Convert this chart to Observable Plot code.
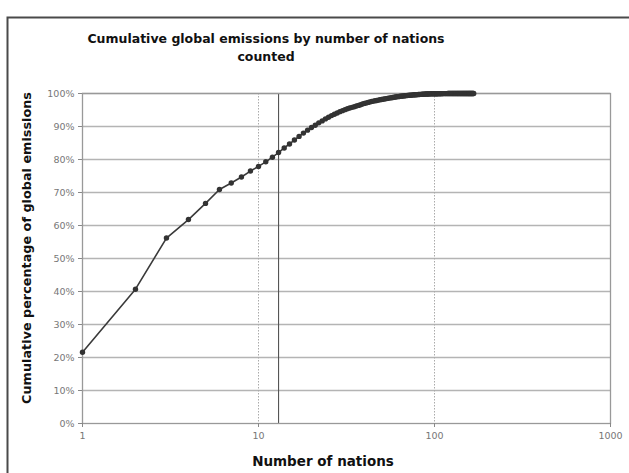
<!DOCTYPE html>
<html>
<head>
<meta charset="utf-8">
<script src="https://cdn.jsdelivr.net/npm/d3@7"></script>
<script src="https://cdn.jsdelivr.net/npm/@observablehq/plot@0.6"></script>
<style>
  html, body { margin: 0; padding: 0; background: #fff; }
  #chart svg { display: block; }
</style>
</head>
<body>
<div id="chart"></div>
<script>
// Cumulative percentage of global emissions for the first N nations (N = 1, 2, 3, ...)
const cumulativePct = [
  21.6, 40.7, 56.2, 61.8, 66.7, 70.9, 72.9, 74.7, 76.5, 77.9,
  79.3, 80.7, 82.1, 83.5, 84.7, 85.9, 87.0, 88.0, 88.9, 89.7,
  90.4, 91.1, 91.7, 92.3, 92.8, 93.3, 93.7, 94.1, 94.5, 94.8,
  95.1, 95.4, 95.6, 95.8, 96.0, 96.2, 96.4, 96.6, 96.8, 97.0,
  97.15, 97.3, 97.45, 97.6, 97.7, 97.8, 97.9, 98.0, 98.1, 98.2,
  98.28, 98.36, 98.44, 98.52, 98.6, 98.67, 98.74, 98.81, 98.88, 98.94,
  99.0, 99.05, 99.1, 99.15, 99.2, 99.24, 99.28, 99.32, 99.36, 99.4,
  99.43, 99.46, 99.49, 99.52, 99.55, 99.58, 99.6, 99.62, 99.64, 99.66,
  99.68, 99.7, 99.72, 99.74, 99.76, 99.78, 99.8, 99.82, 99.84, 99.85,
  99.86, 99.87, 99.88, 99.89, 99.9, 99.91, 99.91, 99.92, 99.92, 99.93,
  99.93, 99.94, 99.94, 99.94, 99.95, 99.95, 99.95, 99.96, 99.96, 99.96,
  99.97, 99.97, 99.97, 99.97, 99.97, 99.97, 99.97, 99.97, 99.98, 99.98,
  99.98, 99.98, 99.98, 99.98, 99.98, 99.98, 99.98, 99.98, 99.98, 99.98,
  99.99, 99.99, 99.99, 99.99, 99.99, 99.99, 99.99, 99.99, 99.99, 99.99,
  99.99, 99.99, 99.99, 99.99, 99.99, 99.99, 99.99, 99.99, 99.99, 99.99,
  100, 100, 100, 100, 100, 100, 100, 100, 100, 100,
  100, 100, 100, 100, 100, 100, 100
];
const xTicks = [1, 10, 100, 1000];
const yTicks = [0, 10, 20, 30, 40, 50, 60, 70, 80, 90, 100];
const dottedX = [10, 100];
const markerX = [13];

const titleLines = ["Cumulative global emissions by number of nations", "counted"];
const xLabel = "Number of nations";
const yLabel = "Cumulative percentage of global emissions";

const data = cumulativePct.map((p, i) => ({n: i + 1, pct: p}));

const svg = Plot.plot({
  width: 629,
  height: 473,
  marginLeft: 82,
  marginRight: 19,
  marginTop: 93,
  marginBottom: 50,
  style: {fontFamily: "'DejaVu Sans', Verdana, sans-serif", fontSize: "9.5px", color: "#555", background: "#fff"},
  x: {type: "log", domain: [1, 1000]},
  y: {domain: [0, 100]},
  marks: [
    Plot.ruleY(yTicks.filter(d => d > 0), {stroke: "#b4b4b4", strokeWidth: 1.4}),
    Plot.ruleX(dottedX, {stroke: "#aaa", strokeWidth: 1, strokeDasharray: "1.5,1.5"}),
    Plot.ruleX(markerX, {stroke: "#555", strokeWidth: 1.1}),
    Plot.frame({stroke: "#999", strokeWidth: 1.3}),
    Plot.axisY({ticks: yTicks, tickFormat: d => d + "%", tickSize: 4, tickPadding: 4, label: null, stroke: "#888", fill: "#777"}),
    Plot.axisX({ticks: xTicks, tickFormat: d => String(d), tickSize: 4, tickPadding: 5, label: null, stroke: "#888", fill: "#777"}),
    Plot.line(data, {x: "n", y: "pct", stroke: "#3a3a3a", strokeWidth: 1.6}),
    Plot.dot(data, {x: "n", y: "pct", r: 2.7, fill: "#333", stroke: "none"})
  ]
});

const s = d3.select(svg);
// outer chart border (extends beyond the visible crop)
s.append("rect")
  .attr("x", 7.5).attr("y", 17.5).attr("width", 700).attr("height", 500)
  .attr("fill", "none").attr("stroke", "#4a4a4a").attr("stroke-width", 2);

const bold = "'DejaVu Sans', Verdana, sans-serif";
titleLines.forEach((t, i) => {
  s.append("text")
    .attr("x", 266).attr("y", 43 + i * 18)
    .attr("text-anchor", "middle")
    .attr("font-family", bold).attr("font-weight", "bold").attr("font-size", 12.5)
    .attr("fill", "#111")
    .text(t);
});
s.append("text")
  .attr("transform", "translate(31,248) rotate(-90)")
  .attr("text-anchor", "middle")
  .attr("font-family", bold).attr("font-weight", "bold").attr("font-size", 12.8)
  .attr("fill", "#111")
  .text(yLabel);
s.append("text")
  .attr("x", 323).attr("y", 466)
  .attr("text-anchor", "middle")
  .attr("font-family", bold).attr("font-weight", "bold").attr("font-size", 13.5)
  .attr("fill", "#111")
  .text(xLabel);

document.getElementById("chart").appendChild(svg);
</script>
</body>
</html>
